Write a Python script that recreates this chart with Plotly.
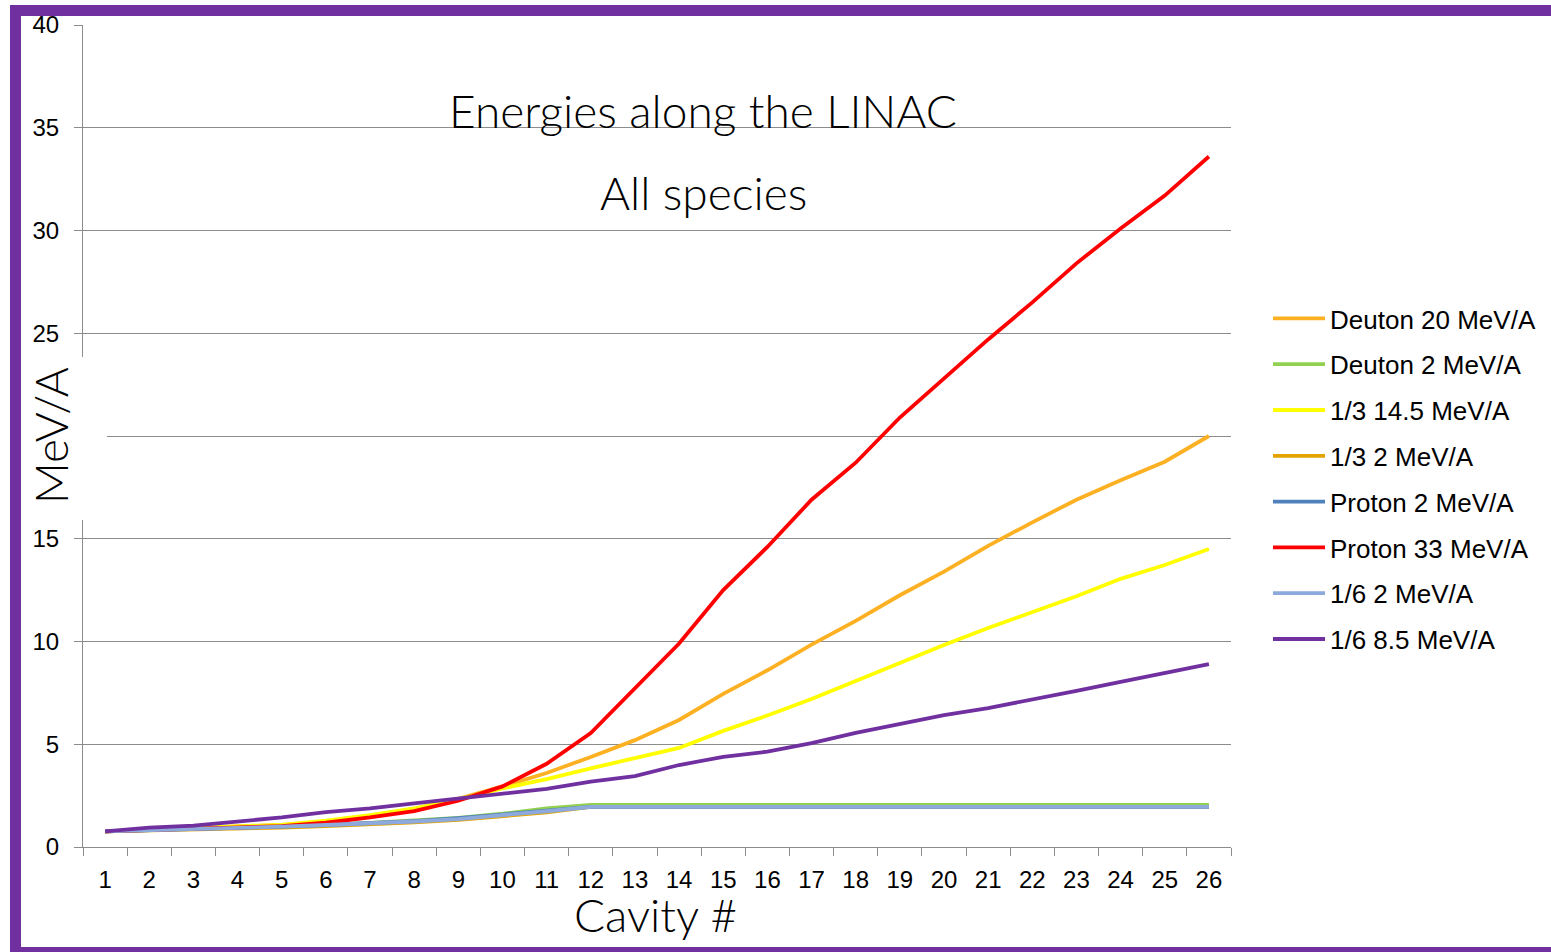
import plotly.graph_objects as go

cavities = [str(i) for i in range(1, 27)]

deuton_20 = [0.76, 0.83, 0.90, 0.98, 1.08, 1.25, 1.50, 1.85, 2.35, 2.95, 3.60, 4.38, 5.20, 6.18, 7.45, 8.60,
             9.85, 11.00, 12.25, 13.40, 14.65, 15.80, 16.90, 17.85, 18.75, 20.00]
deuton_2 = [0.76, 0.82, 0.88, 0.94, 1.00, 1.08, 1.17, 1.28, 1.42, 1.62, 1.88, 2.05, 2.05, 2.05, 2.05, 2.05,
            2.05, 2.05, 2.05, 2.05, 2.05, 2.05, 2.05, 2.05, 2.05, 2.05]
third_14_5 = [0.76, 0.83, 0.90, 0.98, 1.08, 1.28, 1.55, 1.88, 2.30, 2.85, 3.30, 3.83, 4.33, 4.82, 5.65, 6.40,
              7.20, 8.08, 9.00, 9.83, 10.66, 11.45, 12.20, 13.05, 13.72, 14.50]
third_2 = [0.76, 0.80, 0.85, 0.90, 0.95, 1.02, 1.10, 1.20, 1.32, 1.48, 1.68, 1.95, 1.95, 1.95, 1.95, 1.95,
           1.95, 1.95, 1.95, 1.95, 1.95, 1.95, 1.95, 1.95, 1.95, 1.95]
proton_2 = [0.76, 0.81, 0.87, 0.93, 0.99, 1.07, 1.16, 1.26, 1.40, 1.57, 1.78, 1.95, 1.95, 1.95, 1.95, 1.95,
            1.95, 1.95, 1.95, 1.95, 1.95, 1.95, 1.95, 1.95, 1.95, 1.95]
proton_33 = [0.76, 0.82, 0.87, 0.93, 1.02, 1.18, 1.44, 1.75, 2.25, 2.95, 4.05, 5.54, 7.70, 9.90, 12.50, 14.60,
             16.90, 18.70, 20.90, 22.80, 24.70, 26.50, 28.40, 30.10, 31.70, 33.60]
sixth_2 = [0.76, 0.81, 0.87, 0.93, 0.99, 1.07, 1.15, 1.24, 1.36, 1.53, 1.74, 1.95, 1.95, 1.95, 1.95, 1.95,
           1.95, 1.95, 1.95, 1.95, 1.95, 1.95, 1.95, 1.95, 1.95, 1.95]
sixth_8_5 = [0.76, 0.94, 1.04, 1.23, 1.44, 1.70, 1.88, 2.12, 2.35, 2.56, 2.83, 3.18, 3.45, 3.99, 4.39, 4.64,
             5.05, 5.55, 5.98, 6.42, 6.76, 7.20, 7.60, 8.03, 8.47, 8.90]

series_names = ["Deuton 20 MeV/A", "Deuton 2 MeV/A", "1/3 14.5 MeV/A", "1/3 2 MeV/A",
                "Proton 2 MeV/A", "Proton 33 MeV/A", "1/6 2 MeV/A", "1/6 8.5 MeV/A"]
series_values = [deuton_20, deuton_2, third_14_5, third_2, proton_2, proton_33, sixth_2, sixth_8_5]
series_colors = ["#FDB022", "#92D050", "#FFFF00", "#E3A400", "#4F81BD", "#FF0000", "#8EA9DB", "#7030A0"]

y_ticks = [0, 5, 10, 15, 20, 25, 30, 35, 40]
y_tick_text = ["0", "5", "10", "15", "", "25", "30", "35", "40"]

W, H = 1551, 952
L, R, T, B = 83, 1231, 25, 847


def px(X):
    return (X - L) / (R - L)


def py(Y):
    return (B - Y) / (B - T)


fig = go.Figure()
for i, (name, vals, col) in enumerate(zip(series_names, series_values, series_colors)):
    fig.add_trace(go.Scatter(x=cavities, y=vals, name=name, mode="lines",
                             line=dict(color=col, width=3.8), legendgroup=f"g{i}"))

grid_col = "#8C8C8C"
tick_font = dict(family="Liberation Sans, Arial, sans-serif", size=24, color="#000000")
fig.update_layout(
    width=W, height=H,
    margin=dict(l=L, r=W - R, t=T, b=H - B, pad=0, autoexpand=False),
    paper_bgcolor="white", plot_bgcolor="white",
    showlegend=True,
    legend=dict(x=px(1268), y=py(479), xanchor="left", yanchor="middle",
                font=dict(family="Liberation Sans, Arial, sans-serif", size=26, color="#000000"),
                tracegroupgap=9, itemwidth=52, bgcolor="rgba(0,0,0,0)"),
    xaxis=dict(type="category", range=[-0.5, 25.5], showgrid=False, showline=True,
               linecolor=grid_col, linewidth=1, ticks="outside", ticklen=8, tickcolor=grid_col,
               tickson="boundaries", ticklabelstandoff=11, tickfont=tick_font),
    yaxis=dict(range=[0, 40], tickvals=y_ticks, ticktext=y_tick_text, showgrid=True,
               gridcolor=grid_col, gridwidth=1, zeroline=False, showline=True,
               linecolor=grid_col, linewidth=1, ticks="outside", ticklen=8, tickcolor=grid_col,
               ticklabelstandoff=10, tickfont=tick_font),
)

purple = "#7030A0"
shapes = [
    # white box hiding part of the y axis behind its title
    dict(type="rect", xref="paper", yref="paper", x0=px(22), x1=px(107), y0=py(520), y1=py(357),
         fillcolor="white", line=dict(width=0), layer="above"),
    # purple frame
    dict(type="rect", xref="paper", yref="paper", x0=px(10), x1=px(21), y0=py(H + 5), y1=py(5),
         fillcolor=purple, line=dict(width=0), layer="above"),
    dict(type="rect", xref="paper", yref="paper", x0=px(10), x1=px(W + 5), y0=py(16), y1=py(5),
         fillcolor=purple, line=dict(width=0), layer="above"),
    dict(type="rect", xref="paper", yref="paper", x0=px(10), x1=px(W + 5), y0=py(H + 5), y1=py(947),
         fillcolor=purple, line=dict(width=0), layer="above"),
]
fig.update_layout(shapes=shapes)

title_font = dict(family="Lato, Open Sans, sans-serif", size=46, color="#000000", weight=300)
annotations = [
    dict(text="Energies along the LINAC", x=px(703), y=py(110), xref="paper", yref="paper",
         showarrow=False, xanchor="center", yanchor="middle", font=title_font),
    dict(text="All species", x=px(703), y=py(193), xref="paper", yref="paper",
         showarrow=False, xanchor="center", yanchor="middle", font=title_font),
    dict(text="Cavity #", x=px(655), y=py(915), xref="paper", yref="paper",
         showarrow=False, xanchor="center", yanchor="middle", font=title_font),
    dict(text="MeV/A", x=px(50), y=py(436), xref="paper", yref="paper", textangle=-90,
         showarrow=False, xanchor="center", yanchor="middle", font=title_font),
]
fig.update_layout(annotations=annotations)

fig.write_html("out.html")
